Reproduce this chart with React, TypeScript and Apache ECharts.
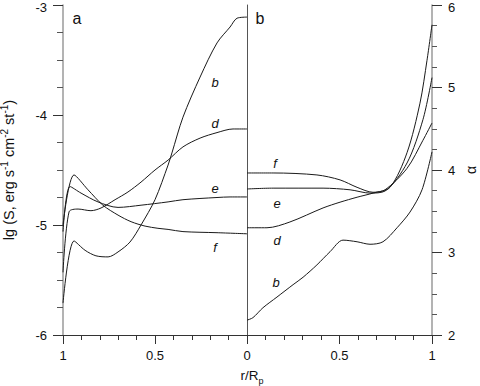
import React, { useEffect, useRef } from "react";
import * as echarts from "echarts";

// ---------- data: panel a (lg S vs r/Rp, axis reversed) ----------
const rA_b = [1, 0.94, 0.88, 0.821, 0.755, 0.701, 0.636, 0.576, 0.5, 0.429, 0.408, 0.348, 0.255, 0.163, 0.092, 0.054, 0];
const sA_b = [-5.71, -5.145, -5.23, -5.28, -5.29, -5.245, -5.155, -5.0, -4.77, -4.455, -4.345, -4.02, -3.655, -3.345, -3.2, -3.12, -3.11];

const rA_d = [1, 0.967, 0.918, 0.848, 0.793, 0.717, 0.647, 0.576, 0.5, 0.429, 0.348, 0.255, 0.163, 0.076, 0];
const sA_d = [-5.43, -4.88, -4.855, -4.87, -4.845, -4.77, -4.7, -4.61, -4.5, -4.41, -4.29, -4.21, -4.16, -4.127, -4.127];

const rA_e = [1, 0.962, 0.902, 0.81, 0.701, 0.576, 0.429, 0.348, 0.163, 0.092, 0];
const sA_e = [-5.06, -4.65, -4.71, -4.79, -4.84, -4.82, -4.79, -4.77, -4.75, -4.745, -4.745];

const rA_f = [1, 0.94, 0.864, 0.783, 0.701, 0.63, 0.554, 0.484, 0.429, 0.348, 0.163, 0];
const sA_f = [-5.0, -4.545, -4.68, -4.82, -4.91, -4.97, -5.01, -5.03, -5.04, -5.06, -5.07, -5.08];

// ---------- data: panel b (alpha vs r/Rp) ----------
const rB_b = [0, 0.032, 0.086, 0.162, 0.249, 0.303, 0.378, 0.449, 0.519, 0.595, 0.665, 0.735, 0.811, 0.881, 0.946, 1];
const aB_b = [2.18, 2.21, 2.33, 2.46, 2.61, 2.7, 2.85, 3.01, 3.15, 3.13, 3.1, 3.13, 3.3, 3.49, 3.76, 4.22];

const rB_d = [0, 0.108, 0.232, 0.411, 0.503, 0.595, 0.681, 0.773, 0.865, 0.935, 0.973, 1];
const aB_d = [3.3, 3.3, 3.37, 3.54, 3.61, 3.67, 3.72, 3.79, 4.21, 4.81, 5.33, 5.76];

const rB_e = [0, 0.141, 0.411, 0.557, 0.665, 0.746, 0.865, 0.951, 1];
const aB_e = [3.77, 3.78, 3.78, 3.76, 3.72, 3.745, 4.085, 4.61, 5.12];

const rB_f = [0, 0.141, 0.378, 0.503, 0.595, 0.681, 0.746, 0.865, 0.951, 1];
const aB_f = [3.964, 3.964, 3.94, 3.88, 3.79, 3.73, 3.76, 4.02, 4.36, 4.57];

const curveNames = ["b", "d", "e", "f"];
const panelNames = ["a", "b"];

const FONT = "Liberation Sans, Arial, sans-serif";

const pairs = (xs: number[], ys: number[]) => xs.map((x, i) => [x, ys[i]]);

export default function App() {
  const ref = useRef<HTMLDivElement>(null);
  useEffect(() => {
    if (!ref.current) return;
    const chart = echarts.init(ref.current, null, { renderer: "svg" });

    const lineStyle = { color: "#1a1a1a", width: 1 };
    const mk = (data: number[][], gi: number, name: string) => ({
      type: "line",
      name,
      xAxisIndex: gi,
      yAxisIndex: gi,
      data,
      showSymbol: false,
      smooth: 0.3,
      lineStyle,
      silent: true,
    });

    const axisText = { color: "#111", fontFamily: FONT, fontSize: 13 };
    const yLine = { show: true, onZero: false, lineStyle: { color: "#9a9a9a", width: 1.5 } };
    const xLine = { show: true, onZero: false, lineStyle: { color: "#333", width: 1 } };
    const tick = { show: true, length: 10, lineStyle: { color: "#333", width: 1 } };
    const label = (x: number, y: number, text: string, italic = true, size = 13) => ({
      type: "text", x, y,
      style: { text, font: `${italic ? "italic " : ""}${size}px ${FONT}`, fill: "#111", align: "center", verticalAlign: "middle" },
    });
    const topShift = { t: { fontFamily: FONT, fontSize: 13, color: "#111", padding: [5, 0, 0, 0] } };

    const option: any = {
      animation: false,
      backgroundColor: "#fff",
      grid: [
        { left: 63, top: 5, width: 184, height: 330, containLabel: false, outerBoundsMode: "none" },
        { left: 247, top: 5, width: 185, height: 330, containLabel: false, outerBoundsMode: "none" },
      ],
      xAxis: [
        {
          gridIndex: 0, type: "value", min: 0, max: 1, interval: 0.5, inverse: true,
          axisLine: xLine, axisTick: { ...tick, length: 9 },
          minorTick: { show: true, splitNumber: 5, length: 5, lineStyle: { color: "#333" } },
          axisLabel: { ...axisText, margin: 14, formatter: (v: number) => String(v) },
          splitLine: { show: false },
        },
        {
          gridIndex: 1, type: "value", min: 0, max: 1, interval: 0.5,
          axisLine: xLine, axisTick: { ...tick, length: 9 },
          minorTick: { show: true, splitNumber: 5, length: 5, lineStyle: { color: "#333" } },
          axisLabel: { ...axisText, margin: 14, formatter: (v: number) => (v === 0 ? "" : String(v)) },
          splitLine: { show: false },
        },
      ],
      yAxis: [
        {
          gridIndex: 0, type: "value", min: -6, max: -3, interval: 1, position: "left",
          axisLine: yLine, axisTick: tick,
          minorTick: { show: true, splitNumber: 4, length: 6, lineStyle: { color: "#555" } },
          axisLabel: {
            ...axisText, margin: 16, rich: topShift,
            formatter: (v: number) => (v === -3 ? `{t|${v}}` : String(v)),
          },
          splitLine: { show: false },
          name: "{n|lg (S, erg s}{s|-1}{n| cm}{s|-2}{n| st}{s|-1}{n|)}",
          nameLocation: "middle",
          nameRotate: 90,
          nameGap: 44,
          nameTextStyle: {
            fontFamily: FONT,
            rich: {
              n: { fontFamily: FONT, fontSize: 14.5, color: "#111", lineHeight: 20 },
              s: { fontFamily: FONT, fontSize: 10, color: "#111", lineHeight: 10, verticalAlign: "top" },
            },
          },
        },
        {
          gridIndex: 1, type: "value", min: 2, max: 6, interval: 1, position: "right",
          axisLine: yLine, axisTick: tick,
          minorTick: { show: true, splitNumber: 4, length: 5, lineStyle: { color: "#555" } },
          axisLabel: {
            ...axisText, margin: 16, rich: topShift,
            formatter: (v: number) => (v === 6 ? `{t|${v}}` : String(v)),
          },
          splitLine: { show: false },
          name: "α",
          nameLocation: "middle",
          nameRotate: 90,
          nameGap: 32,
          nameTextStyle: { fontFamily: FONT, fontSize: 14, color: "#111" },
        },
        {
          gridIndex: 1, type: "value", min: 2, max: 6, interval: 1, position: "left",
          axisLine: { show: true, onZero: false, lineStyle: { color: "#555", width: 1 } },
          axisTick: { show: false }, axisLabel: { show: false }, splitLine: { show: false },
        },
      ],
      series: [
        mk(pairs(rA_b, sA_b), 0, "a-" + curveNames[0]),
        mk(pairs(rA_d, sA_d), 0, "a-" + curveNames[1]),
        mk(pairs(rA_e, sA_e), 0, "a-" + curveNames[2]),
        mk(pairs(rA_f, sA_f), 0, "a-" + curveNames[3]),
        mk(pairs(rB_b, aB_b), 1, "b-" + curveNames[0]),
        mk(pairs(rB_d, aB_d), 1, "b-" + curveNames[1]),
        mk(pairs(rB_e, aB_e), 1, "b-" + curveNames[2]),
        mk(pairs(rB_f, aB_f), 1, "b-" + curveNames[3]),
      ],
      graphic: [
        label(77, 18, panelNames[0], false, 16),
        label(260, 18, panelNames[1], false, 16),
        // curve labels, panel a
        label(215, 82, curveNames[0]),
        label(215, 123, curveNames[1]),
        label(215, 188, curveNames[2]),
        label(215, 247, curveNames[3]),
        // curve labels, panel b
        label(276, 282, curveNames[0]),
        label(277, 240, curveNames[1]),
        label(277, 203, curveNames[2]),
        label(275, 163, curveNames[3]),
        // x axis name
        {
          type: "text", x: 252, y: 375,
          style: {
            text: "{n|r/R}{s|p}",
            align: "center", verticalAlign: "middle",
            rich: {
              n: { fontFamily: FONT, fontSize: 13.5, fill: "#111", lineHeight: 20 },
              s: { fontFamily: FONT, fontSize: 9, fill: "#111", lineHeight: 10, verticalAlign: "bottom" },
            },
          },
        },
      ],
    };
    chart.setOption(option);
    return () => chart.dispose();
  }, []);
  return <div ref={ref} style={{ position: "fixed", left: 0, top: 0, width: 480, height: 386 }} />;
}
